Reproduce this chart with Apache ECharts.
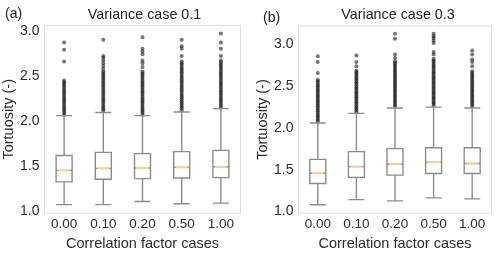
<!DOCTYPE html>
<html>
<head>
<meta charset="utf-8">
<script src="https://cdn.jsdelivr.net/npm/echarts@6/dist/echarts.min.js"></script>
<style>html,body{margin:0;padding:0;background:#fff}#c{width:500px;height:256px}</style>
</head>
<body>
<div id="c"></div>
<script>
const categories = ['0.00', '0.10', '0.20', '0.50', '1.00'];
const yTicks = [1.0, 1.5, 2.0, 2.5, 3.0];

// Panel (a): variance case 0.1
const aLow = [1.072, 1.072, 1.107, 1.082, 1.089];
const aQ1 = [1.324, 1.353, 1.360, 1.367, 1.371];
const aMed = [1.452, 1.474, 1.478, 1.485, 1.492];
const aQ3 = [1.617, 1.652, 1.638, 1.660, 1.674];
const aHigh = [2.059, 2.094, 2.059, 2.100, 2.137];
const aOut0 = [2.07,2.09,2.11,2.13,2.15,2.17,2.19,2.21,2.23,2.25,2.27,2.29,2.31,2.33,2.35,2.37,2.39,2.41,2.43,2.45,2.66,2.79,2.87];
const aOut1 = [2.11,2.13,2.15,2.17,2.19,2.21,2.23,2.25,2.27,2.29,2.31,2.33,2.35,2.37,2.39,2.41,2.43,2.45,2.47,2.49,2.51,2.53,2.55,2.58,2.61,2.64,2.67,2.70,2.72,2.90];
const aOut2 = [2.07,2.09,2.11,2.13,2.15,2.17,2.19,2.21,2.23,2.25,2.27,2.29,2.31,2.33,2.35,2.37,2.39,2.41,2.43,2.45,2.47,2.49,2.51,2.53,2.55,2.60,2.64,2.67,2.74,2.77,2.80,2.93];
const aOut3 = [2.12,2.14,2.16,2.18,2.20,2.22,2.24,2.26,2.28,2.30,2.32,2.34,2.36,2.38,2.40,2.42,2.44,2.46,2.48,2.50,2.52,2.54,2.56,2.58,2.60,2.62,2.64,2.66,2.72,2.80,2.83,2.90];
const aOut4 = [2.15,2.17,2.19,2.21,2.23,2.25,2.27,2.29,2.31,2.33,2.35,2.37,2.39,2.41,2.43,2.45,2.47,2.49,2.51,2.53,2.55,2.57,2.59,2.61,2.63,2.65,2.67,2.72,2.80,2.87,2.97];

// Panel (b): variance case 0.3
const bLow = [1.081, 1.142, 1.127, 1.162, 1.150];
const bQ1 = [1.335, 1.408, 1.435, 1.454, 1.454];
const bMed = [1.458, 1.537, 1.566, 1.591, 1.575];
const bQ3 = [1.624, 1.717, 1.753, 1.764, 1.763];
const bHigh = [2.060, 2.175, 2.240, 2.250, 2.240];
const bOut0 = [2.08,2.10,2.12,2.14,2.16,2.18,2.20,2.22,2.24,2.26,2.28,2.30,2.32,2.34,2.36,2.38,2.40,2.42,2.44,2.46,2.48,2.50,2.52,2.54,2.56,2.58,2.66,2.79,2.86];
const bOut1 = [2.19,2.21,2.23,2.25,2.27,2.29,2.31,2.33,2.35,2.37,2.39,2.41,2.43,2.45,2.47,2.49,2.51,2.53,2.55,2.57,2.59,2.61,2.63,2.65,2.67,2.69,2.74,2.79,2.87];
const bOut2 = [2.26,2.28,2.30,2.32,2.34,2.36,2.38,2.40,2.42,2.44,2.46,2.48,2.50,2.52,2.54,2.56,2.58,2.60,2.62,2.64,2.66,2.68,2.70,2.72,2.74,2.76,2.78,2.80,2.84,2.88,3.07,3.13];
const bOut3 = [2.27,2.29,2.31,2.33,2.35,2.37,2.39,2.41,2.43,2.45,2.47,2.49,2.51,2.53,2.55,2.57,2.59,2.61,2.63,2.65,2.67,2.69,2.71,2.73,2.75,2.77,2.79,2.81,2.83,2.88,2.91,3.02,3.05,3.08,3.10,3.13];
const bOut4 = [2.26,2.28,2.30,2.32,2.34,2.36,2.38,2.40,2.42,2.44,2.46,2.48,2.50,2.52,2.54,2.56,2.58,2.60,2.62,2.64,2.66,2.68,2.74,2.79,2.82,2.88,2.93];

const FONT = '"Liberation Sans", Arial, sans-serif';
const panels = [
  {low: aLow, q1: aQ1, med: aMed, q3: aQ3, high: aHigh, outs: [aOut0,aOut1,aOut2,aOut3,aOut4],
   grid: {left: 44.5, top: 25.5, width: 196, height: 194.5}, ymin: 0.978, ymax: 3.059},
  {low: bLow, q1: bQ1, med: bMed, q3: bQ3, high: bHigh, outs: [bOut0,bOut1,bOut2,bOut3,bOut4],
   grid: {left: 298.5, top: 26, width: 193, height: 194}, ymin: 0.98, ymax: 3.223}
];

const grids = [], xAxes = [], yAxes = [], series = [];
panels.forEach((p, i) => {
  grids.push(Object.assign({show: true, borderColor: '#dddddd', borderWidth: 1, backgroundColor: '#fff'}, p.grid));
  xAxes.push({
    type: 'category', gridIndex: i, data: categories,
    axisLine: {show: false}, axisTick: {show: false}, splitLine: {show: false},
    axisLabel: {color: '#2b2b2b', fontSize: 13.5, fontFamily: FONT, margin: 4},
    name: 'Correlation factor cases', nameLocation: 'middle', nameGap: 17,
    nameTextStyle: {color: '#2b2b2b', fontSize: 14.5, fontFamily: FONT}
  });
  yAxes.push({
    type: 'value', gridIndex: i, min: p.ymin, max: p.ymax,
    axisLine: {show: false}, axisTick: {show: false}, splitLine: {show: false},
    axisLabel: {color: '#2b2b2b', fontSize: 14, fontFamily: FONT, margin: 5,
      customValues: yTicks, formatter: v => v.toFixed(1)},
    name: 'Tortuosity (-)', nameLocation: 'middle', nameGap: 25,
    nameTextStyle: {color: '#2b2b2b', fontSize: 14.5, fontFamily: FONT}
  });
  const outData = [];
  p.outs.forEach((arr, k) => arr.forEach(v => outData.push([k, v])));
  series.push({
    type: 'scatter', xAxisIndex: i, yAxisIndex: i, data: outData,
    symbol: 'circle', symbolSize: 4, silent: true,
    itemStyle: {color: '#111', opacity: 0.58}, z: 2
  });
  series.push({
    type: 'boxplot', xAxisIndex: i, yAxisIndex: i, boxWidth: [16, 16],
    data: categories.map((c, k) => [p.low[k], p.q1[k], p.med[k], p.q3[k], p.high[k]]),
    itemStyle: {color: '#fff', borderColor: '#8c8c8c', borderWidth: 1.4}, z: 3, silent: true
  });
  series.push({
    type: 'scatter', xAxisIndex: i, yAxisIndex: i, data: p.med.map((v, k) => [k, v]),
    symbol: 'rect', symbolSize: [12, 2], silent: true,
    itemStyle: {color: '#fbd38d', opacity: 1}, z: 4
  });
});

const chart = echarts.init(document.getElementById('c'), null, {renderer: 'canvas'});
chart.setOption({
  animation: false,
  backgroundColor: '#fff',
  grid: grids, xAxis: xAxes, yAxis: yAxes, series: series,
  graphic: [
    {type: 'text', x: 5, y: 14, style: {text: '(a)', font: '14px ' + FONT, fill: '#222', verticalAlign: 'middle'}},
    {type: 'text', x: 144.5, y: 15, style: {text: 'Variance case 0.1', font: '14.3px ' + FONT, fill: '#222', align: 'center', verticalAlign: 'middle'}},
    {type: 'text', x: 263, y: 18.5, style: {text: '(b)', font: '14px ' + FONT, fill: '#222', verticalAlign: 'middle'}},
    {type: 'text', x: 398, y: 15.5, style: {text: 'Variance case 0.3', font: '14.3px ' + FONT, fill: '#222', align: 'center', verticalAlign: 'middle'}}
  ]
});
</script>
</body>
</html>
